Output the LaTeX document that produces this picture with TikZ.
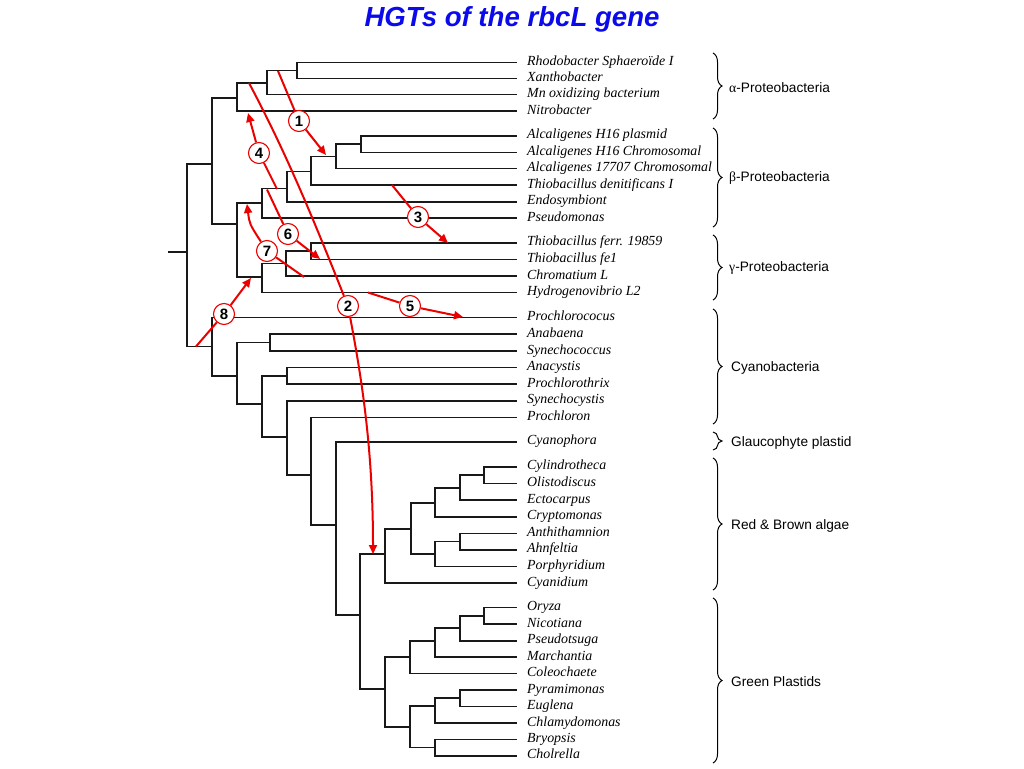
\documentclass[tikz,border=0pt]{standalone}
\usepackage{fontspec}
\setmainfont{Liberation Serif}
\setsansfont{Liberation Sans}
\usetikzlibrary{arrows.meta,decorations.pathreplacing}
\definecolor{titleblue}{RGB}{10,10,235}
\definecolor{hgtred}{RGB}{235,0,0}
\begin{document}
\begin{tikzpicture}[x=1pt,y=-1pt,
  tree/.style={line width=1.6pt, black!90},
  leaf/.style={anchor=west, inner sep=0pt, font=\fontsize{13.9}{16}\selectfont\itshape, text height=6.2pt, text depth=0pt},
  hgt/.style={hgtred, line width=2pt, -{Triangle[length=9pt,width=8pt]}},
  hgtline/.style={hgtred, line width=2pt},
  num/.style={circle, draw=hgtred, line width=1.1pt, fill=white, minimum size=21pt, inner sep=0pt, font=\sffamily\bfseries\fontsize{15}{15}\selectfont},
  grp/.style={anchor=base west, inner sep=0pt, font=\sffamily\fontsize{13.7}{16}\selectfont},
  brc/.style={decorate, decoration={brace, amplitude=9pt}, line width=1pt},
  title/.style={anchor=base, inner sep=0pt, text=titleblue, font=\sffamily\bfseries\itshape\fontsize{27.6}{30}\selectfont}
]
\useasboundingbox (0,0) rectangle (1024,768);
\node[title] (T) at (512,26.5) {HGTs of the rbcL gene};

% leaves
\foreach \i/\y/\t in {
 1/62.5/Rhodobacter Sphaeroïde I, 2/78.5/Xanthobacter, 3/94.5/Mn oxidizing bacterium, 4/111/Nitrobacter,
 5/135.7/Alcaligenes H16 plasmid, 6/152.3/Alcaligenes H16 Chromosomal, 7/168.5/Alcaligenes 17707 Chromosomal,
 8/185/Thiobacillus denitificans I, 9/201.7/Endosymbiont, 10/218/Pseudomonas,
 11/242.7/Thiobacillus ferr. 19859, 12/259.3/Thiobacillus fe1, 13/276/Chromatium L, 14/292.5/Hydrogenovibrio L2,
 15/317.3/Prochlorococus, 16/334/Anabaena, 17/351/Synechococcus, 18/367.5/Anacystis, 19/384/Prochlorothrix,
 20/400.7/Synechocystis, 21/417.3/Prochloron, 22/441.7/Cyanophora,
 23/466.7/Cylindrotheca, 24/483.3/Olistodiscus, 25/500/Ectocarpus, 26/516.7/Cryptomonas, 27/533.3/Anthithamnion,
 28/549.7/Ahnfeltia, 29/566.3/Porphyridium, 30/583/Cyanidium,
 31/607.3/Oryza, 32/624/Nicotiana, 33/640.7/Pseudotsuga, 34/657/Marchantia, 35/673.3/Coleochaete,
 36/690/Pyramimonas, 37/706.3/Euglena, 38/723/Chlamydomonas, 39/739.5/Bryopsis, 40/755.7/Cholrella}
{
  \node[leaf] (L\i) at (527,\y) {\t};
  \coordinate (e\i) at (517,\y);
}

% internal nodes
\coordinate (a1) at (297,70.5);
\coordinate (a2) at (267,83);
\coordinate (a3) at (237,98);
\coordinate (b1) at (361,144);
\coordinate (b2) at (336,156.5);
\coordinate (b3) at (311,171.5);
\coordinate (b4) at (287,188.5);
\coordinate (b5) at (262,203);
\coordinate (g1) at (311,251);
\coordinate (g2) at (286,263.5);
\coordinate (g3) at (262,277);
\coordinate (bg) at (237,224);
\coordinate (p) at (212,164);
\coordinate (root) at (187,252);
\coordinate (stem) at (168,252);
\coordinate (c0) at (212,346.5);
\coordinate (c1) at (237,376);
\coordinate (c2) at (270,342.5);
\coordinate (c3) at (262,404);
\coordinate (c4) at (287,376);
\coordinate (c5) at (287,437);
\coordinate (c6) at (311,475);
\coordinate (c7) at (336,525);
\coordinate (c8) at (360,615);
\coordinate (r0) at (385,554);
\coordinate (r1) at (411,529);
\coordinate (r2) at (435,503);
\coordinate (r3) at (460,488);
\coordinate (r4) at (484,475);
\coordinate (r5) at (435,554);
\coordinate (r6) at (460,541.5);
\coordinate (q0) at (385,689);
\coordinate (q1) at (410,657);
\coordinate (q2) at (435,641);
\coordinate (q3) at (460,628);
\coordinate (q4) at (484,615.7);
\coordinate (q5) at (410,727);
\coordinate (q6) at (435,706);
\coordinate (q7) at (460,698);
\coordinate (q8) at (435,747.5);

\draw[tree] (stem) -- (root);
\foreach \pa/\ch in {a1/e1, a1/e2, a2/a1, a2/e3, a3/a2, a3/e4,
  b1/e5, b1/e6, b2/b1, b2/e7, b3/b2, b3/e8, b4/b3, b4/e9, b5/b4, b5/e10,
  g1/e11, g1/e12, g2/g1, g2/e13, g3/g2, g3/e14,
  bg/b5, bg/g3, p/a3, p/bg, root/p, root/c0,
  c0/e15, c0/c1, c1/c2, c1/c3, c2/e16, c2/e17, c3/c4, c3/c5, c4/e18, c4/e19,
  c5/e20, c5/c6, c6/e21, c6/c7, c7/e22, c7/c8, c8/r0, c8/q0,
  r0/r1, r0/e30, r1/r2, r1/r5, r2/r3, r2/e26, r3/r4, r3/e25, r4/e23, r4/e24,
  r5/r6, r5/e29, r6/e27, r6/e28,
  q0/q1, q0/q5, q1/q2, q1/e35, q2/q3, q2/e34, q3/q4, q3/e33, q4/e31, q4/e32,
  q5/q6, q5/q8, q6/q7, q6/e38, q7/e36, q7/e37, q8/e39, q8/e40}
  \draw[tree] (\pa) |- (\ch);

% HGT numbered circles
\node[num] (n1) at (299,121) {1};
\node[num] (n2) at (348,306) {2};
\node[num] (n3) at (418,217) {3};
\node[num] (n4) at (259,153) {4};
\node[num] (n5) at (410,306) {5};
\node[num] (n6) at (288,234) {6};
\node[num] (n7) at (267,251) {7};
\node[num] (n8) at (224,314) {8};

\coordinate (s1) at (278,71);   \coordinate (t1) at (326,155);
\coordinate (s2) at (249,83);   \coordinate (t2) at (373,554);
\coordinate (s3) at (392,185);  \coordinate (t3) at (448,243);
\coordinate (s4) at (277,189);  \coordinate (t4) at (248,113);
\coordinate (s5) at (368,292.5);\coordinate (t5) at (463,317);
\coordinate (s6) at (267,189.5);\coordinate (t6) at (320,259);
\coordinate (s7) at (304,277);  \coordinate (t7) at (247,204);
\coordinate (s8) at (196,346.5);\coordinate (t8) at (251,278);

\draw[hgt] (s1) -- (n1) -- (t1);
\draw[hgtline] (s2) .. controls (289,158) and (318,231) .. (n2);
\draw[hgt] (n2) .. controls (362,380) and (373,450) .. (t2);
\draw[hgt] (s3) -- (n3) -- (t3);
\draw[hgt] (s4) -- (n4) -- (t4);
\draw[hgt] (s5) -- (n5) -- (t5);
\draw[hgt] (s6) -- (n6) -- (t6);
\draw[hgtline] (s7) -- (n7);
\draw[hgt] (n7) .. controls (249.5,224) .. (t7);
\draw[hgt] (s8) -- (n8) -- (t8);

% group braces and labels
\draw[brc] (713,53) -- (713,119);
\draw[brc] (713,128) -- (713,227);
\draw[brc] (713,235) -- (713,300);
\draw[brc] (713,309) -- (713,424);
\draw[brc] (713,432) -- (713,450);
\draw[brc] (713,458) -- (713,590);
\draw[brc] (713,598) -- (713,763);
\node[grp] (G1) at (729,92) {{\rmfamily α}-Proteobacteria};
\node[grp] (G2) at (729,181) {{\rmfamily β}-Proteobacteria};
\node[grp] (G3) at (729,271.5) {{\rmfamily γ}-Proteobacteria};
\node[grp] (G4) at (731,371) {Cyanobacteria};
\node[grp] (G5) at (731,446.5) {Glaucophyte plastid};
\node[grp] (G6) at (731,529) {Red \& Brown algae};
\node[grp] (G7) at (731,686) {Green Plastids};
\end{tikzpicture}
\end{document}
